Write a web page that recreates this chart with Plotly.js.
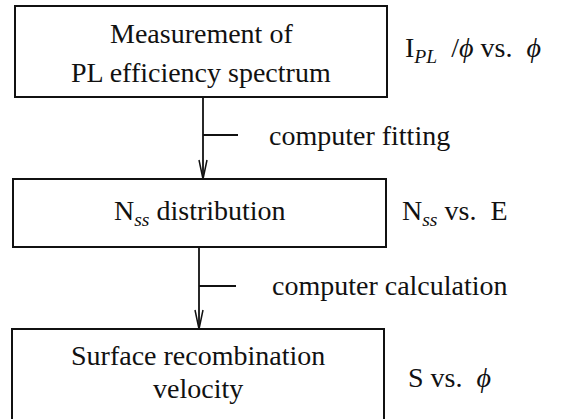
<!DOCTYPE html>
<html>
<head>
<meta charset="utf-8">
<script src="https://cdn.plot.ly/plotly-3.0.1.min.js"></script>
<style>html,body{margin:0;padding:0;background:#fff;}#chart{width:567px;height:419px;}</style>
</head>
<body>
<div id="chart"></div>
<script>
// Flowchart content
const boxLines = [
  ["Measurement of", "PL efficiency spectrum"],
  ["N<sub><i>ss</i></sub> distribution"],
  ["Surface recombination", "velocity"]
];
const sideLabels = [
  "I<sub><i>PL</i></sub>\u00a0 /<i>ϕ</i> vs.\u00a0 <i>ϕ</i>",
  "N<sub><i>ss</i></sub> vs.\u00a0 E",
  "S vs.\u00a0 <i>ϕ</i>"
];
const stepLabels = ["computer fitting", "computer calculation"];

// Layout geometry (pixels, y downward)
const boxGeom = [
  {x0: 15, x1: 387, y0: 6, y1: 97, lineY: [33, 72], sideY: 49},
  {x0: 13, x1: 386, y0: 179, y1: 247, lineY: [212], sideY: 212},
  {x0: 12, x1: 384, y0: 329, y1: 423, lineY: [355, 388], sideY: 377}
];
const sideX = [403, 400, 406];
const arrowGeom = [
  {x: 203, tickY: 135, tickX1: 238, textX: 267, textY: 135},
  {x: 199, tickY: 286, tickX1: 236, textX: 270, textY: 285}
];

const ink = "#111";
const font = {family: "'Liberation Serif', 'DejaVu Serif', serif", size: 28, color: ink};
const shapes = [];
const annotations = [];

boxGeom.forEach((g, i) => {
  shapes.push({type: "rect", xref: "x", yref: "y", x0: g.x0, x1: g.x1, y0: g.y0, y1: g.y1,
    line: {color: ink, width: 2}, fillcolor: "rgba(0,0,0,0)"});
  const cx = (g.x0 + g.x1) / 2;
  boxLines[i].forEach((t, j) => {
    annotations.push({x: cx, y: g.lineY[j], xref: "x", yref: "y", text: t, showarrow: false,
      xanchor: "center", yanchor: "middle", font: font});
  });
  annotations.push({x: sideX[i], y: g.sideY, xref: "x", yref: "y", text: sideLabels[i], showarrow: false,
    xanchor: "left", yanchor: "middle", font: font});
});

arrowGeom.forEach((a, i) => {
  const top = boxGeom[i].y1, bot = boxGeom[i + 1].y0;
  shapes.push({type: "line", xref: "x", yref: "y", x0: a.x, x1: a.x, y0: top, y1: bot,
    line: {color: ink, width: 1.8}});
  shapes.push({type: "path", xref: "x", yref: "y",
    path: `M ${a.x - 4},${bot - 19} L ${a.x},${bot} L ${a.x + 4},${bot - 19}`,
    line: {color: ink, width: 1.5}});
  shapes.push({type: "line", xref: "x", yref: "y", x0: a.x, x1: a.tickX1, y0: a.tickY, y1: a.tickY,
    line: {color: ink, width: 1.8}});
  annotations.push({x: a.textX, y: a.textY, xref: "x", yref: "y", text: stepLabels[i], showarrow: false,
    xanchor: "left", yanchor: "middle", font: font});
});

const layout = {
  width: 567, height: 419,
  margin: {l: 0, r: 0, t: 0, b: 0, pad: 0},
  paper_bgcolor: "#fff", plot_bgcolor: "#fff",
  font: font,
  xaxis: {range: [0, 567], visible: false, fixedrange: true},
  yaxis: {range: [419, 0], visible: false, fixedrange: true},
  showlegend: false,
  shapes: shapes,
  annotations: annotations
};

Plotly.newPlot("chart", [], layout, {staticPlot: true, displayModeBar: false});
</script>
</body>
</html>
